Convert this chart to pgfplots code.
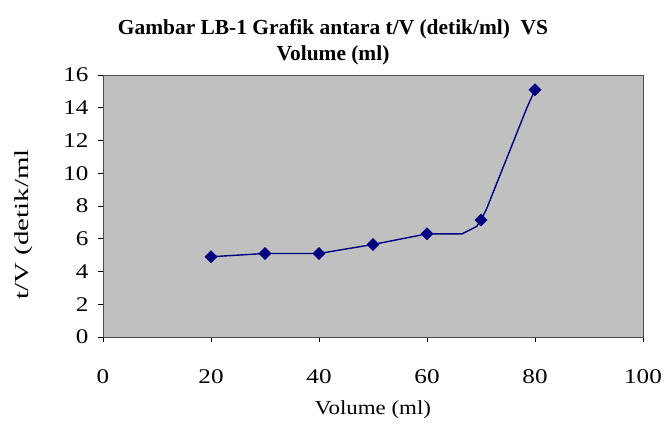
\documentclass[border=0pt]{standalone}
\usepackage{pgfplots}
\pgfplotsset{compat=1.18}
\usepackage{fontspec}
\setmainfont{Liberation Serif}
\newfontfamily\tickfont[FakeStretch=1.2]{Liberation Serif}
\newfontfamily\xlabfont[FakeStretch=1.15]{Liberation Serif}
\newfontfamily\ylabfont[FakeStretch=1.45]{Liberation Serif}
\definecolor{plotgray}{RGB}{192,192,192}
\definecolor{navy}{RGB}{0,0,128}
\begin{document}
\begin{tikzpicture}[x=1bp,y=1bp]
\path[use as bounding box] (0,0) rectangle (669,426);
\begin{axis}[
  at={(103bp,89bp)}, anchor=south west,
  scale only axis, width=540bp, height=262bp,
  xmin=0, xmax=100, ymin=0, ymax=16,
  xtick={0,20,...,100}, ytick={0,2,...,16},
  axis background/.style={fill=plotgray},
  axis line style={black!70, line width=0.8bp},
  tick style={black, line width=0.6bp},
  tick align=outside, major tick length=5bp,
  xtick pos=bottom, ytick pos=left,
  ticklabel style={font=\tickfont\fontsize{21}{24}\selectfont},
  /pgf/number format/assume math mode=true,
  xticklabel style={yshift=-24bp},
  yticklabel style={xshift=-6bp},
  xlabel={Volume (ml)}, ylabel={t/V (detik/ml},
  xlabel style={font=\xlabfont\fontsize{20}{22}\selectfont, yshift=-10bp},
  ylabel style={font=\ylabfont\fontsize{20}{22}\selectfont, at={(ticklabel cs:0.43)}, yshift=24bp},
  title={\textbf{Gambar LB-1 Grafik antara t/V (detik/ml)\ \ VS}\\\textbf{Volume (ml)}},
  title style={font=\fontsize{21.5}{27}\selectfont, align=center, xshift=-40bp},
]
\addplot[navy, line width=1.4bp] coordinates {
 (20,4.9) (30,5.1) (40,5.1) (50,5.65) (60,6.3) (66.5,6.3) (69.2,6.75) (70,7.15) (71,7.8) (78.5,14.0) (80,15.1)
};
\addplot[only marks, mark=square*, mark size=4.3bp, mark options={rotate=45}, navy] coordinates {
 (20,4.9) (30,5.1) (40,5.1) (50,5.65) (60,6.3) (70,7.15) (80,15.1)
};
\end{axis}
\end{tikzpicture}
\end{document}
